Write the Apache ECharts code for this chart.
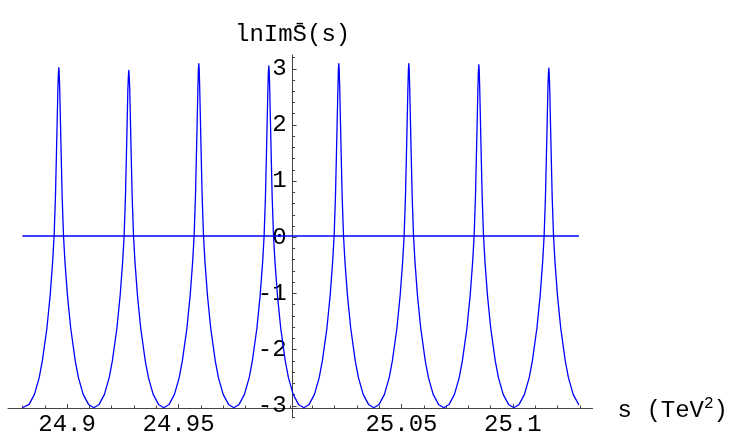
<!DOCTYPE html>
<html>
<head>
<meta charset="utf-8">
<script src="https://cdn.jsdelivr.net/npm/echarts@6/dist/echarts.min.js"></script>
<style>
html,body{margin:0;padding:0;background:#fff;}
#chart{width:731px;height:437px;}
</style>
</head>
<body>
<div id="chart"></div>
<script>
// s values (TeV^2), one row per resonance peak
const sValues = [
  24.88000,
  24.88297, 24.88537, 24.88750, 24.88892, 24.89097, 24.89243, 24.89354, 24.89419, 24.89479, 24.89523, 24.89559, 24.89590, 24.89612, 24.89630, 24.89648, 24.89670, 24.89701, 24.89737, 24.89781, 24.89841, 24.89906, 24.90017, 24.90163, 24.90368, 24.90510, 24.90723, 24.90963, 24.91200,
  24.91437, 24.91677, 24.91890, 24.92032, 24.92237, 24.92383, 24.92494, 24.92559, 24.92619, 24.92663, 24.92699, 24.92730, 24.92752, 24.92770, 24.92788, 24.92810, 24.92841, 24.92877, 24.92921, 24.92981, 24.93046, 24.93157, 24.93303, 24.93508, 24.93650, 24.93863, 24.94103, 24.94340,
  24.94577, 24.94817, 24.95030, 24.95172, 24.95377, 24.95523, 24.95634, 24.95699, 24.95759, 24.95803, 24.95839, 24.95870, 24.95892, 24.95910, 24.95928, 24.95950, 24.95981, 24.96017, 24.96061, 24.96121, 24.96186, 24.96297, 24.96443, 24.96648, 24.96790, 24.97003, 24.97243, 24.97480,
  24.97717, 24.97957, 24.98170, 24.98312, 24.98517, 24.98663, 24.98774, 24.98839, 24.98899, 24.98943, 24.98979, 24.99010, 24.99032, 24.99050, 24.99068, 24.99090, 24.99121, 24.99157, 24.99201, 24.99261, 24.99326, 24.99437, 24.99583, 24.99788, 24.99930, 25.00143, 25.00383, 25.00620,
  25.00857, 25.01097, 25.01310, 25.01452, 25.01657, 25.01803, 25.01914, 25.01979, 25.02039, 25.02083, 25.02119, 25.02150, 25.02172, 25.02190, 25.02208, 25.02230, 25.02261, 25.02297, 25.02341, 25.02401, 25.02466, 25.02577, 25.02723, 25.02928, 25.03070, 25.03283, 25.03523, 25.03760,
  25.03997, 25.04237, 25.04450, 25.04592, 25.04797, 25.04943, 25.05054, 25.05119, 25.05179, 25.05223, 25.05259, 25.05290, 25.05312, 25.05330, 25.05348, 25.05370, 25.05401, 25.05437, 25.05481, 25.05541, 25.05606, 25.05717, 25.05863, 25.06068, 25.06210, 25.06423, 25.06663, 25.06900,
  25.07137, 25.07377, 25.07590, 25.07732, 25.07937, 25.08083, 25.08194, 25.08259, 25.08319, 25.08363, 25.08399, 25.08430, 25.08452, 25.08470, 25.08488, 25.08510, 25.08541, 25.08577, 25.08621, 25.08681, 25.08746, 25.08857, 25.09003, 25.09208, 25.09350, 25.09563, 25.09803, 25.10040,
  25.10277, 25.10517, 25.10730, 25.10872, 25.11077, 25.11223, 25.11334, 25.11399, 25.11459, 25.11503, 25.11539, 25.11570, 25.11592, 25.11610, 25.11628, 25.11650, 25.11681, 25.11717, 25.11761, 25.11821, 25.11886, 25.11997, 25.12143, 25.12348, 25.12490, 25.12703, 25.12960
];
// ln Im S-bar(s) values, same rows
const lnImSValues = [
  -3.08,
  -3.02, -2.84, -2.54, -2.24, -1.65, -1.06, -0.46, 0.00, 0.70, 1.45, 2.10, 2.65, 2.92, 3.02, 2.92, 2.65, 2.10, 1.45, 0.70, 0.00, -0.46, -1.06, -1.65, -2.24, -2.54, -2.84, -3.02, -3.08,
  -3.02, -2.84, -2.54, -2.24, -1.65, -1.06, -0.46, 0.00, 0.70, 1.45, 2.10, 2.65, 2.87, 2.97, 2.87, 2.65, 2.10, 1.45, 0.70, 0.00, -0.46, -1.06, -1.65, -2.24, -2.54, -2.84, -3.02, -3.08,
  -3.02, -2.84, -2.54, -2.24, -1.65, -1.06, -0.46, 0.00, 0.70, 1.45, 2.10, 2.65, 2.99, 3.09, 2.99, 2.65, 2.10, 1.45, 0.70, 0.00, -0.46, -1.06, -1.65, -2.24, -2.54, -2.84, -3.02, -3.08,
  -3.02, -2.84, -2.54, -2.24, -1.65, -1.06, -0.46, 0.00, 0.70, 1.45, 2.10, 2.65, 2.95, 3.05, 2.95, 2.65, 2.10, 1.45, 0.70, 0.00, -0.46, -1.06, -1.65, -2.24, -2.54, -2.84, -3.02, -3.08,
  -3.02, -2.84, -2.54, -2.24, -1.65, -1.06, -0.46, 0.00, 0.70, 1.45, 2.10, 2.65, 2.99, 3.09, 2.99, 2.65, 2.10, 1.45, 0.70, 0.00, -0.46, -1.06, -1.65, -2.24, -2.54, -2.84, -3.02, -3.08,
  -3.02, -2.84, -2.54, -2.24, -1.65, -1.06, -0.46, 0.00, 0.70, 1.45, 2.10, 2.65, 2.99, 3.09, 2.99, 2.65, 2.10, 1.45, 0.70, 0.00, -0.46, -1.06, -1.65, -2.24, -2.54, -2.84, -3.02, -3.08,
  -3.02, -2.84, -2.54, -2.24, -1.65, -1.06, -0.46, 0.00, 0.70, 1.45, 2.10, 2.65, 2.97, 3.07, 2.97, 2.65, 2.10, 1.45, 0.70, 0.00, -0.46, -1.06, -1.65, -2.24, -2.54, -2.84, -3.02, -3.08,
  -3.02, -2.84, -2.54, -2.24, -1.65, -1.06, -0.46, 0.00, 0.70, 1.45, 2.10, 2.65, 2.91, 3.01, 2.91, 2.65, 2.10, 1.45, 0.70, 0.00, -0.46, -1.06, -1.65, -2.24, -2.54, -2.84, -3.03
];
// horizontal line at zero
const zeroLineS = [24.88000, 25.12960];
const zeroLineY = [0, 0];

// ticks
const xMajorTicks = [24.9, 24.95, 25.05, 25.1];
const xTickLabels = ['24.9', '24.95', '25.05', '25.1'];
const xMinorTicks = [24.88, 24.89, 24.90, 24.91, 24.92, 24.93, 24.94, 24.95, 24.96, 24.97, 24.98, 24.99, 25.00,
                     25.01, 25.02, 25.03, 25.04, 25.05, 25.06, 25.07, 25.08, 25.09, 25.10, 25.11, 25.12, 25.13];
const yMajorTicks = [-3, -2, -1, 0, 1, 2, 3];
const yTickLabels = ['-3', '-2', '-1', '0', '1', '2', '3'];
const yMinorTicks = [-3.2, -3.0, -2.8, -2.6, -2.4, -2.2, -2.0, -1.8, -1.6, -1.4, -1.2, -1.0, -0.8, -0.6, -0.4, -0.2, 0,
                     0.2, 0.4, 0.6, 0.8, 1.0, 1.2, 1.4, 1.6, 1.8, 2.0, 2.2, 2.4, 2.6, 2.8, 3.0, 3.2];

const FONT = '"Liberation Mono", "DejaVu Sans Mono", monospace';
const AXIS_COLOR = '#444';
const FS = 24;

const curve = sValues.map((s, i) => [s, lnImSValues[i]]);
const zeroLine = zeroLineS.map((s, i) => [s, zeroLineY[i]]);

function near(a, b) { return Math.abs(a - b) < 1e-6; }

const chart = echarts.init(document.getElementById('chart'), null, {renderer: 'canvas'});
chart.setOption({
  animation: false,
  backgroundColor: '#ffffff',
  grid: [
    {left: 8, right: 133, top: 55, bottom: 26.5, containLabel: false},
    {left: 292.6, width: 1, top: 55, bottom: 19, containLabel: false}
  ],
  xAxis: [
    {
      type: 'value', gridIndex: 0, position: 'bottom', min: 24.87351, max: 25.13573,
      axisLine: {show: true, onZero: false, lineStyle: {color: AXIS_COLOR, width: 1}},
      axisTick: {show: true, inside: true, length: 4, customValues: xMajorTicks, lineStyle: {color: AXIS_COLOR}},
      axisLabel: {
        show: true, customValues: xMajorTicks, margin: 5,
        fontFamily: FONT, fontSize: FS, color: '#000',
        formatter: v => { const i = xMajorTicks.findIndex(t => near(t, v)); return i >= 0 ? xTickLabels[i] : ''; }
      },
      splitLine: {show: false},
      name: '{a|s (TeV}{sup|2}{a|)}',
      nameLocation: 'end',
      nameGap: 25,
      nameTextStyle: {
        rich: {
          a: {fontFamily: FONT, fontSize: FS, color: '#000', padding: [6, 0, 0, 0]},
          sup: {fontFamily: FONT, fontSize: 16, color: '#000', padding: [0, 0, 8, 0]}
        }
      }
    },
    {
      type: 'value', gridIndex: 0, position: 'bottom', offset: 0, min: 24.87351, max: 25.13573,
      axisLine: {show: false, onZero: false},
      axisTick: {show: true, inside: true, length: 2.5, customValues: xMinorTicks, lineStyle: {color: AXIS_COLOR}},
      axisLabel: {show: false},
      splitLine: {show: false}
    },
    {
      type: 'value', gridIndex: 1, min: 0, max: 1, show: false
    }
  ],
  yAxis: [
    {
      type: 'value', gridIndex: 0, min: -3.084, max: 3.245, show: false,
      splitLine: {show: false}
    },
    {
      type: 'value', gridIndex: 1, min: -3.2175, max: 3.245, position: 'left',
      axisLine: {show: true, onZero: false, lineStyle: {color: AXIS_COLOR, width: 1}},
      axisTick: {show: true, inside: true, length: 4, customValues: yMajorTicks, lineStyle: {color: AXIS_COLOR}},
      axisLabel: {
        show: true, customValues: yMajorTicks, margin: 6,
        fontFamily: FONT, fontSize: FS, color: '#000',
        formatter: v => { const i = yMajorTicks.findIndex(t => near(t, v)); return i >= 0 ? yTickLabels[i] : ''; }
      },
      splitLine: {show: false},
      name: 'lnImS\u0304(s)',
      nameLocation: 'end',
      nameGap: 8,
      nameTextStyle: {fontFamily: FONT, fontSize: FS, color: '#000', align: 'center'}
    },
    {
      type: 'value', gridIndex: 1, min: -3.2175, max: 3.245, position: 'left', offset: 0,
      axisLine: {show: false, onZero: false},
      axisTick: {show: true, inside: true, length: 2.5, customValues: yMinorTicks, lineStyle: {color: AXIS_COLOR}},
      axisLabel: {show: false},
      splitLine: {show: false}
    }
  ],
  series: [
    {
      type: 'line', xAxisIndex: 0, yAxisIndex: 0,
      data: zeroLine, showSymbol: false, symbol: 'none',
      lineStyle: {color: '#0000ff', width: 1.3}, z: 3
    },
    {
      type: 'line', xAxisIndex: 0, yAxisIndex: 0,
      data: curve, showSymbol: false, symbol: 'none', smooth: false,
      lineStyle: {color: '#0000ff', width: 1.3, join: 'round'}, z: 4
    }
  ]
});
</script>
</body>
</html>
